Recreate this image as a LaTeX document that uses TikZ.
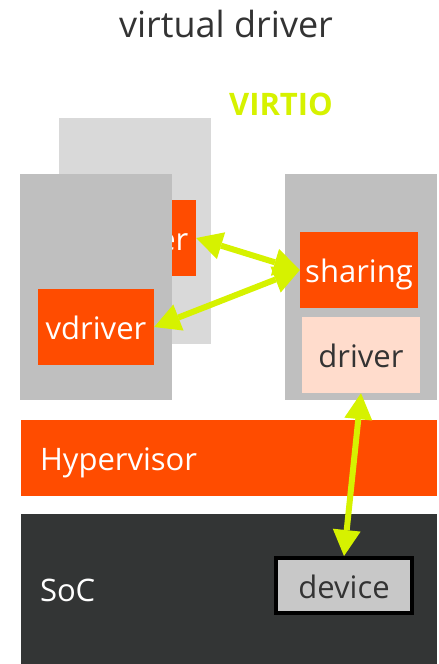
\documentclass[tikz,border=0pt]{standalone}
\usepackage{fontspec}
\setmainfont{Open Sans}
\usetikzlibrary{arrows.meta}

\definecolor{hvred}{RGB}{255,76,0}
\definecolor{virtio}{RGB}{214,242,0}
\definecolor{socdark}{RGB}{51,53,53}
\definecolor{vmgray}{RGB}{191,191,191}
\definecolor{vmback}{RGB}{217,217,217}
\definecolor{peach}{RGB}{255,220,204}
\definecolor{devgray}{RGB}{200,200,200}
\definecolor{ink}{RGB}{51,51,51}

\begin{document}
\begin{tikzpicture}[x=1pt,y=-1pt,
  vm/.style={rectangle,inner sep=0pt,minimum width=152pt,minimum height=226pt},
  box/.style={rectangle,inner sep=0pt,minimum width=118pt,minimum height=76pt,
    font=\fontsize{31pt}{31pt}\selectfont,text height=25pt,text depth=0pt},
  layer/.style={box,minimum width=416pt,text width=378pt,inner xsep=19pt,align=left,text=white},
  link/.style={{Triangle[length=26pt,width=28pt,line width=0pt]}-{Triangle[length=26pt,width=28pt,line width=0pt]},
    line width=6pt,color=virtio}]

  \useasboundingbox (0,0) rectangle (439,664);

  \node (title) at (226,24) {\fontsize{36pt}{36pt}\selectfont\color{ink}virtual driver};
  \node (virtio) at (281,104) {\fontsize{31pt}{31pt}\selectfont\bfseries\color{virtio}VIRTIO};

  % guests
  \node[vm,fill=vmback] (vm2) at (135,231) {};
  \node[box,fill=hvred,text=white,minimum width=116pt] (vdriver2) at (138,238) {vdriver};
  \node[vm,fill=vmgray] (vm1) at (96,287) {};
  \node[box,fill=hvred,text=white,minimum width=116pt] (vdriver) at (96,327) {vdriver};

  % host
  \node[vm,fill=vmgray] (host) at (361,287) {};
  \node[box,fill=hvred,text=white] (sharing) at (359,270) {sharing};
  \node[box,fill=peach,text=ink] (driver) at (361,355) {driver};

  \node[layer,fill=hvred] (hyp) at (229,458) {Hypervisor};
  \node[layer,fill=socdark,minimum height=150pt] (soc) at (229,589) {SoC};
  \node[box,fill=devgray,text=ink,draw=black,line width=4pt,
    minimum width=136pt,minimum height=55pt] (device) at (344,585.5) {device};

  \path[link]
    (vdriver2.east) edge (sharing.west)
    (vdriver.east) edge (sharing.west)
    (driver.south) edge (device.north);

\end{tikzpicture}
\end{document}
